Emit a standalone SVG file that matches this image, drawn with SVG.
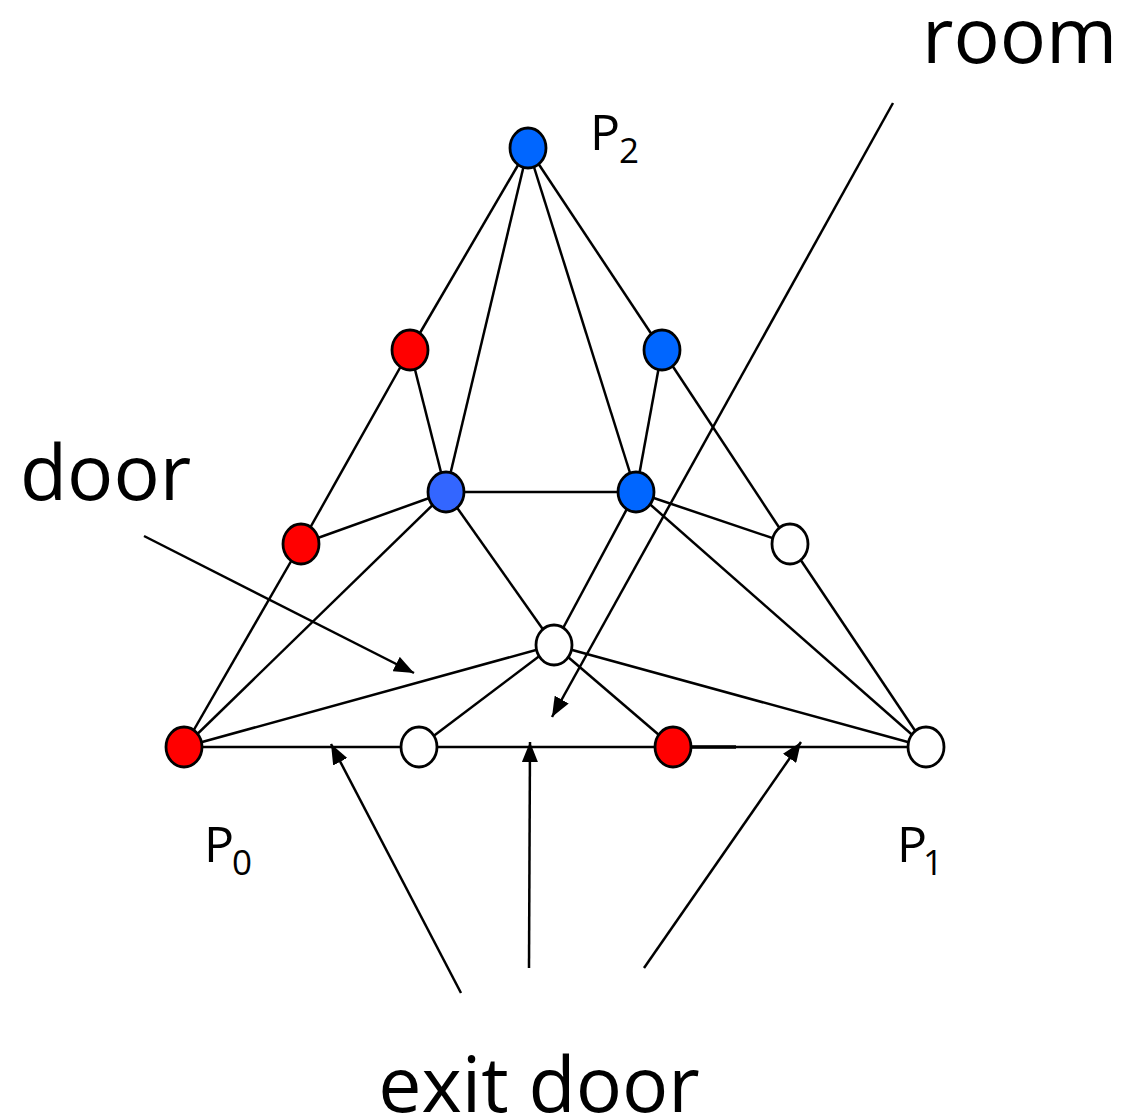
<svg xmlns="http://www.w3.org/2000/svg" width="1147" height="1117" viewBox="0 0 1147 1117">
<defs>
<style>
.e{stroke:#000;stroke-width:2.5;fill:none}
.n{stroke:#000;stroke-width:2.8}
.red{fill:#ff0000}.blue{fill:#0066ff}.blue2{fill:#3366ff}.white{fill:#fff}
.big{font-family:"Open Sans","Noto Sans",sans-serif;font-size:77px;fill:#000}
.p{font-family:"Open Sans","Noto Sans",sans-serif;font-size:50px;fill:#000}
.s{font-size:35px}
</style>
<marker id="ah2" viewBox="0 0 10 10" refX="10" refY="5" markerWidth="20" markerHeight="16" markerUnits="userSpaceOnUse" orient="auto" preserveAspectRatio="none"><path d="M0,0 L10,5 L0,10 z" fill="#000"/></marker>
</defs>
<g id="connectors">
<line class="e" x1="528" y1="148" x2="410" y2="350"/>
<line class="e" x1="410" y1="350" x2="301" y2="544"/>
<line class="e" x1="301" y1="544" x2="184" y2="747"/>
<line class="e" x1="528" y1="148" x2="662" y2="350"/>
<line class="e" x1="662" y1="350" x2="790" y2="544"/>
<line class="e" x1="790" y1="544" x2="926" y2="747"/>
<line class="e" x1="528" y1="148" x2="446" y2="492"/>
<line class="e" x1="528" y1="148" x2="636" y2="492"/>
<line class="e" x1="410" y1="350" x2="446" y2="492"/>
<line class="e" x1="662" y1="350" x2="636" y2="492"/>
<line class="e" x1="446" y1="492" x2="636" y2="492"/>
<line class="e" x1="301" y1="544" x2="446" y2="492"/>
<line class="e" x1="446" y1="492" x2="184" y2="747"/>
<line class="e" x1="446" y1="492" x2="554" y2="645"/>
<line class="e" x1="636" y1="492" x2="554" y2="645"/>
<line class="e" x1="636" y1="492" x2="790" y2="544"/>
<line class="e" x1="636" y1="492" x2="926" y2="747"/>
<line class="e" x1="554" y1="645" x2="184" y2="747"/>
<line class="e" x1="554" y1="645" x2="419" y2="747"/>
<line class="e" x1="554" y1="645" x2="673" y2="747"/>
<line class="e" x1="554" y1="645" x2="926" y2="747"/>
<line class="e" x1="184" y1="747" x2="926" y2="747"/>
<line x1="690" y1="747" x2="736" y2="747" stroke="#000" stroke-width="3.5"/>
<line class="e" x1="144" y1="536" x2="414" y2="673" marker-end="url(#ah2)"/>
<line class="e" x1="893" y1="103" x2="552" y2="717" marker-end="url(#ah2)"/>
<line class="e" x1="461" y1="993" x2="331" y2="744" marker-end="url(#ah2)"/>
<line class="e" x1="529" y1="968" x2="530" y2="742" marker-end="url(#ah2)"/>
<line class="e" x1="644" y1="968" x2="801" y2="742" marker-end="url(#ah2)"/>
</g>
<g id="P0"><ellipse class="n red" cx="184" cy="747" rx="18" ry="20"/></g>
<g id="n2"><ellipse class="n white" cx="419" cy="747" rx="18" ry="20"/></g>
<g id="n3"><ellipse class="n red" cx="673" cy="747" rx="18" ry="20"/></g>
<g id="P1"><ellipse class="n white" cx="926" cy="747" rx="18" ry="20"/></g>
<g id="P2"><ellipse class="n blue" cx="528" cy="148" rx="18" ry="20"/></g>
<g id="a"><ellipse class="n red" cx="410" cy="350" rx="18" ry="20"/></g>
<g id="b"><ellipse class="n blue" cx="662" cy="350" rx="18" ry="20"/></g>
<g id="c"><ellipse class="n red" cx="301" cy="544" rx="18" ry="20"/></g>
<g id="d"><ellipse class="n blue2" cx="446" cy="492" rx="18" ry="20"/></g>
<g id="e"><ellipse class="n blue" cx="636" cy="492" rx="18" ry="20"/></g>
<g id="f"><ellipse class="n white" cx="790" cy="544" rx="18" ry="20"/></g>
<g id="g"><ellipse class="n white" cx="554" cy="645" rx="18" ry="20"/></g>
<g id="labels">
<text class="big" x="922" y="63">room</text>
<text class="big" x="20" y="500">door</text>
<text class="big" x="539" y="1112" text-anchor="middle">exit door</text>
<text class="p" x="590" y="150">P<tspan class="s" x="619" y="163">2</tspan></text>
<text class="p" x="204" y="862">P<tspan class="s" x="232" y="875">0</tspan></text>
<text class="p" x="897" y="862">P<tspan class="s" x="923" y="875">1</tspan></text>
</g>
</svg>
